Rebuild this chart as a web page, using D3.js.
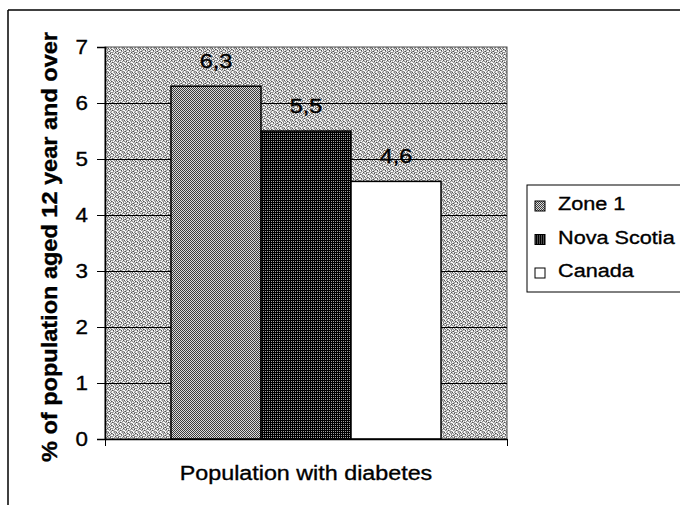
<!DOCTYPE html>
<html>
<head>
<meta charset="utf-8">
<script src="https://cdn.jsdelivr.net/npm/d3@7"></script>
<style>
  body { margin: 0; background: #fff; }
  svg text { font-family: "Liberation Sans", Arial, sans-serif; fill: #000; stroke: #000; stroke-width: 0.35px; }
</style>
</head>
<body>
<svg id="chart" width="680" height="505"></svg>
<script>
(function () {

    'use strict';

    // data
    var category = 'Population with diabetes';
    var seriesNames = ['Zone 1', 'Nova Scotia', 'Canada'];
    var seriesValues = [6.3, 5.5, 4.6];
    var valueLabels = ['6,3', '5,5', '4,6'];
    var yTicks = [0, 1, 2, 3, 4, 5, 6, 7];
    var yTitle = '% of population aged 12 year and over';

    var plot = { left: 105, right: 507, top: 47, bottom: 439 };
    var sx = 1.12; // the scanned text is a bit wider than the font

    var svg = d3.select('#chart');
    var defs = svg.append('defs');

    // dithered greys, like the scan
    var makePattern = function (id, rows, greys) {
        var n = rows.length;
        var p = defs.append('pattern')
            .attr('id', id)
            .attr('width', n).attr('height', n)
            .attr('patternUnits', 'userSpaceOnUse');
        rows.forEach(function (row, r) {
            row.split('').forEach(function (ch, col) {
                p.append('rect')
                    .attr('x', col).attr('y', r)
                    .attr('width', 1).attr('height', 1)
                    .attr('fill', greys[+ch]);
            });
        });
    };

    makePattern('bgPat', [
        '01213021',
        '20121203',
        '13020121',
        '02112310',
        '21031022',
        '10212130',
        '32100211',
        '01221012'
    ], ['#ffffff', '#c8c8c8', '#8c8c8c', '#505050']);

    makePattern('zonePat', ['01', '10'], ['#3c3c3c', '#dcdcdc']);
    makePattern('nsPat', ['00', '01'], ['#000000', '#a0a0a0']);

    var fills = ['url(#zonePat)', 'url(#nsPat)', '#ffffff'];

    // outer frame
    svg.append('line').attr('x1', 8).attr('y1', 10).attr('x2', 680).attr('y2', 10)
        .attr('stroke', '#000').attr('stroke-width', 1.5);
    svg.append('line').attr('x1', 8).attr('y1', 10).attr('x2', 8).attr('y2', 505)
        .attr('stroke', '#000').attr('stroke-width', 1.5);

    var y = d3.scaleLinear().domain([0, 7]).range([plot.bottom, plot.top]);

    var x = d3.scaleBand()
        .domain(seriesNames)
        .range([plot.left, plot.right])
        .paddingInner(0)
        .paddingOuter(0.733);

    // plot area
    svg.append('rect')
        .attr('x', plot.left).attr('y', plot.top)
        .attr('width', plot.right - plot.left).attr('height', plot.bottom - plot.top)
        .attr('fill', 'url(#bgPat)')
        .attr('stroke', '#4a4a4a').attr('stroke-width', 1);

    // gridlines
    svg.append('g').selectAll('line')
        .data(yTicks.filter(function (t) { return t > 0 && t < 7; }))
        .enter().append('line')
            .attr('x1', plot.left).attr('x2', plot.right)
            .attr('y1', function (d) { return y(d) + 0.5; })
            .attr('y2', function (d) { return y(d) + 0.5; })
            .attr('stroke', '#000').attr('stroke-width', 1);

    // bars
    svg.append('g').selectAll('rect')
        .data(seriesValues)
        .enter().append('rect')
            .attr('x', function (d, i) { return x(seriesNames[i]); })
            .attr('y', function (d) { return y(d); })
            .attr('width', x.bandwidth())
            .attr('height', function (d) { return y(0) - y(d); })
            .attr('fill', function (d, i) { return fills[i]; })
            .attr('stroke', '#000').attr('stroke-width', 1.5);

    // value labels
    svg.append('g').selectAll('text')
        .data(seriesValues)
        .enter().append('text')
            .attr('text-anchor', 'middle')
            .attr('font-size', 21)
            .attr('transform', function (d, i) {
                return 'translate(' + (x(seriesNames[i]) + x.bandwidth() / 2) + ',' + (y(d) - 18) + ') scale(' + sx + ',1)';
            })
            .text(function (d, i) { return valueLabels[i]; });

    // y axis, ticks only; labels drawn below
    var yAxisG = svg.append('g')
        .attr('transform', 'translate(' + plot.left + ',0)')
        .call(d3.axisLeft(y).tickValues(yTicks).tickSize(8).tickFormat(''));
    yAxisG.select('.domain').attr('stroke', '#000').attr('stroke-width', 1.5);
    yAxisG.selectAll('.tick line').attr('stroke', '#000').attr('stroke-width', 1);

    svg.append('g').selectAll('text')
        .data(yTicks)
        .enter().append('text')
            .attr('text-anchor', 'end')
            .attr('font-size', 20)
            .attr('dy', '0.36em')
            .attr('transform', function (d) {
                return 'translate(88,' + y(d) + ') scale(' + sx + ',1)';
            })
            .text(function (d) { return d; });

    // x axis with boundary ticks
    var xEdge = d3.scaleLinear().domain([0, 1]).range([plot.left, plot.right]);
    var xAxisG = svg.append('g')
        .attr('transform', 'translate(0,' + plot.bottom + ')')
        .call(d3.axisBottom(xEdge).tickValues([0, 1]).tickSize(7).tickSizeOuter(0).tickFormat(''));
    xAxisG.select('.domain').attr('stroke', '#000').attr('stroke-width', 1.5);
    xAxisG.selectAll('.tick line').attr('stroke', '#000');

    // category label
    svg.append('text')
        .attr('text-anchor', 'middle')
        .attr('font-size', 21)
        .attr('transform', 'translate(' + ((plot.left + plot.right) / 2) + ',480) scale(1.11,1)')
        .text(category);

    // y title
    svg.append('text')
        .attr('text-anchor', 'middle')
        .attr('font-size', 22)
        .attr('font-weight', 'bold')
        .attr('textLength', 430)
        .attr('lengthAdjust', 'spacingAndGlyphs')
        .attr('transform', 'translate(57,247) rotate(-90)')
        .text(yTitle);

    // legend
    var legend = svg.append('g');
    legend.append('rect')
        .attr('x', 527).attr('y', 185)
        .attr('width', 160).attr('height', 107)
        .attr('fill', '#fff')
        .attr('stroke', '#000').attr('stroke-width', 1);

    var item = legend.selectAll('g.item')
        .data(seriesNames)
        .enter().append('g')
            .attr('class', 'item')
            .attr('transform', function (d, i) { return 'translate(0,' + (210 + i * 33.5) + ')'; });

    item.append('rect')
        .attr('x', 535).attr('y', -9)
        .attr('width', 10).attr('height', 10)
        .attr('fill', function (d, i) { return fills[i]; })
        .attr('stroke', '#000').attr('stroke-width', 1);

    item.append('text')
        .attr('font-size', 19)
        .attr('transform', 'translate(558,0) scale(1.14,1)')
        .text(function (d) { return d; });

}());
</script>
</body>
</html>
